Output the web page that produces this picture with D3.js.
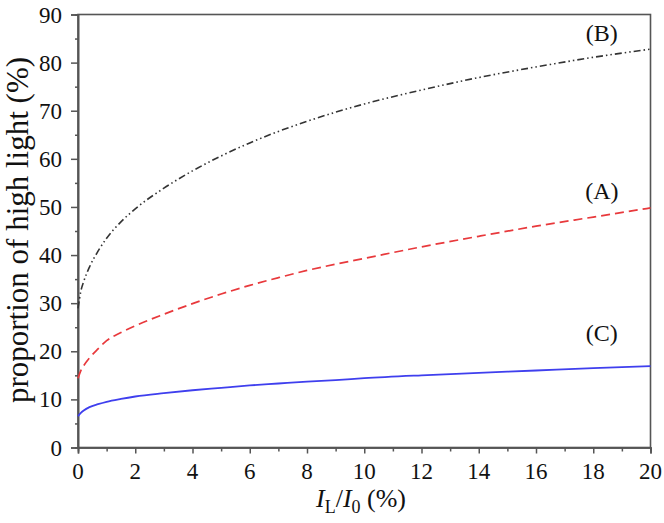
<!DOCTYPE html>
<html>
<head>
<meta charset="utf-8">
<script src="https://cdn.jsdelivr.net/npm/d3@7"></script>
<style>
  body { margin: 0; background: #fff; }
  .chart text { font-family: "Liberation Serif", "Times New Roman", Times, serif; fill: #111; }
</style>
</head>
<body>
<svg class="chart"></svg>
<script>
const width = 664;
const height = 523;

// I_L/I_0 (%) sample positions
const xValues = [0, 0.1, 0.2, 0.4, 0.7, 1, 1.5, 2, 3, 4, 5, 6, 7, 8, 9, 10, 12, 14, 16, 18, 20];
const seriesA = [14.4, 16.0, 17.0, 18.6, 20.5, 22.2, 23.9, 25.3, 27.7, 29.9, 31.9, 33.7, 35.3, 36.8, 38.1, 39.3, 41.7, 43.9, 46.0, 47.9, 49.8];
const seriesB = [28.9, 32.5, 34.5, 37.5, 40.8, 43.5, 46.9, 49.6, 53.9, 57.5, 60.6, 63.3, 65.7, 67.8, 69.7, 71.4, 74.3, 76.9, 79.1, 81.1, 82.8];
const seriesC = [6.5, 7.2, 7.7, 8.4, 9.0, 9.5, 10.1, 10.6, 11.3, 11.9, 12.4, 12.9, 13.3, 13.7, 14.0, 14.4, 15.0, 15.5, 16.0, 16.5, 16.9];
const seriesLabels = ['(A)', '(B)', '(C)'];
const xTicks = [0, 2, 4, 6, 8, 10, 12, 14, 16, 18, 20];
const yTicks = [0, 10, 20, 30, 40, 50, 60, 70, 80, 90];

const svg = d3.select('.chart')
  .attr('width', width)
  .attr('height', height);

const margin = {left: 78, right: 13.5, top: 14.5, bottom: 75.5};
const innerWidth = width - margin.left - margin.right;
const innerHeight = height - margin.top - margin.bottom;

const xScale = d3.scaleLinear().domain([0, 20]).range([0, innerWidth]);
const yScale = d3.scaleLinear().domain([0, 90]).range([innerHeight, 0]);

const g = svg.append('g')
  .attr('transform', `translate(${margin.left},${margin.top})`);

const axisColor = '#555';

// frame
g.append('rect')
  .attr('width', innerWidth)
  .attr('height', innerHeight)
  .attr('fill', 'none')
  .attr('stroke', axisColor)
  .attr('stroke-width', 1.6);

// ticks (major + minor), labels drawn separately below
const xMinor = d3.axisBottom(xScale).tickValues(d3.range(1, 20, 2)).tickSize(4).tickFormat('');
const yMinor = d3.axisLeft(yScale).tickValues(d3.range(5, 90, 10)).tickSize(3).tickFormat('');
const xaxis = d3.axisBottom(xScale).tickValues(xTicks).tickSize(6).tickFormat('');
const yaxis = d3.axisLeft(yScale).tickValues(yTicks).tickSize(7).tickFormat('');

[g.append('g').attr('transform', `translate(0,${innerHeight})`).call(xMinor),
 g.append('g').attr('transform', `translate(0,${innerHeight})`).call(xaxis),
 g.append('g').call(yMinor),
 g.append('g').call(yaxis)].forEach(a => {
  a.select('.domain').attr('stroke', axisColor).attr('stroke-width', 1.6);
  a.selectAll('.tick line').attr('stroke', axisColor).attr('stroke-width', 1.5);
  a.selectAll('.tick text').remove();
});

g.append('g').selectAll('text').data(xTicks).enter().append('text')
  .attr('x', d => xScale(d))
  .attr('y', innerHeight + 31)
  .attr('text-anchor', 'middle')
  .attr('font-size', 23)
  .text(d => d);

g.append('g').selectAll('text').data(yTicks).enter().append('text')
  .attr('x', -16)
  .attr('y', d => yScale(d) + 8)
  .attr('text-anchor', 'end')
  .attr('font-size', 23)
  .text(d => d);

// curves
const line = d3.line()
  .x(d => xScale(d[0]))
  .y(d => yScale(d[1]))
  .curve(d3.curveMonotoneX);

const curves = [
  {values: seriesB, color: '#333', dash: '7,3,1.5,3,1.5,3', width: 1.6},
  {values: seriesA, color: '#e8393c', dash: '9,5', width: 1.7},
  {values: seriesC, color: '#3f3fee', dash: null, width: 1.8}
];

curves.forEach(c => {
  g.append('path')
    .datum(xValues.map((x, i) => [x, c.values[i]]))
    .attr('fill', 'none')
    .attr('stroke', c.color)
    .attr('stroke-width', c.width)
    .attr('stroke-dasharray', c.dash)
    .attr('d', line);
});

// curve labels
const labelPos = [[18.3, 53.3], [18.3, 86.2], [18.3, 23.8]];
seriesLabels.forEach((t, i) => {
  g.append('text')
    .attr('x', xScale(labelPos[i][0]))
    .attr('y', yScale(labelPos[i][1]) + 8)
    .attr('text-anchor', 'middle')
    .attr('font-size', 24)
    .text(t);
});

// axis titles
svg.append('text')
  .attr('transform', `translate(28,${margin.top + innerHeight / 2 - 1}) rotate(-90)`)
  .attr('text-anchor', 'middle')
  .attr('font-size', 31)
  .text('proportion of high light (%)');

const xt = svg.append('text')
  .attr('x', 361)
  .attr('y', 507)
  .attr('text-anchor', 'middle')
  .attr('font-size', 26);
xt.append('tspan').attr('font-style', 'italic').text('I');
xt.append('tspan').attr('font-size', 18).attr('dy', 6).text('L');
xt.append('tspan').attr('dy', -6).text('/');
xt.append('tspan').attr('font-style', 'italic').text('I');
xt.append('tspan').attr('font-size', 18).attr('dy', 6).text('0');
xt.append('tspan').attr('dy', -6).text(' (%)');
</script>
</body>
</html>
